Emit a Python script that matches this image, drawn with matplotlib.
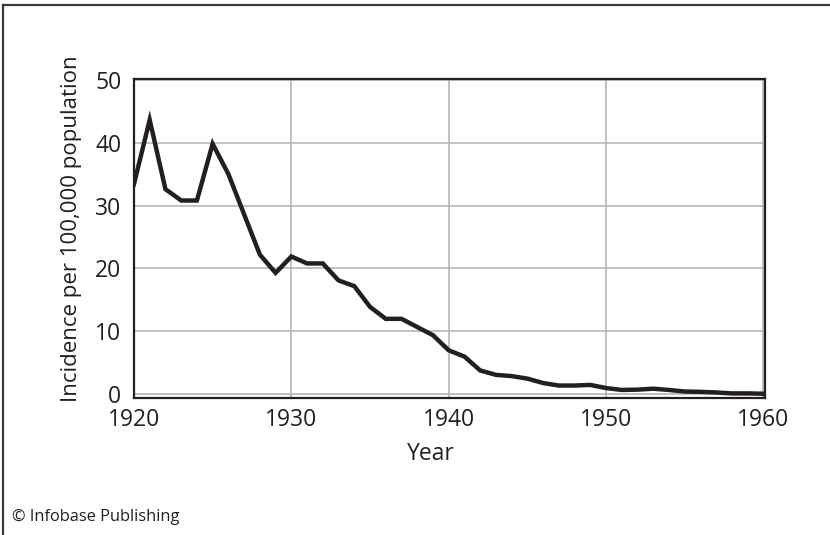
"""
Incidence per 100,000 population, 1920-1960.
"""

import matplotlib
matplotlib.use('Agg')
from matplotlib import pyplot as plt
from matplotlib.lines import Line2D

plt.rcParams['font.family'] = ['Open Sans', 'DejaVu Sans']

# Data
years = list(range(1920, 1961))
incidence = [33.4, 43.6, 32.6, 30.8, 30.8, 39.8, 35.0, 28.6, 22.2, 19.3,
             21.9, 20.8, 20.8, 18.1, 17.2, 13.9, 12.0, 12.0, 10.7, 9.4,
             7.0, 6.0, 3.8, 3.1, 2.9, 2.5, 1.8, 1.4, 1.4, 1.5,
             1.0, 0.7, 0.75, 0.9, 0.7, 0.45, 0.4, 0.3, 0.15, 0.15, 0.1]
xticks = [1920, 1930, 1940, 1950, 1960]
yticks = [0, 10, 20, 30, 40, 50]

fig = plt.figure(figsize=(8.3, 5.35), dpi=100)
ax = fig.add_axes([0.1614, 0.257, 0.7603, 0.5953])

ax.plot(years, incidence, '-', color='#231f20', lw=3.2,
        solid_joinstyle='miter', zorder=3)

ax.set_xlim(1920, 1960.1)
ax.set_ylim(-0.5, 50.1)
ax.set_xticks(xticks)
ax.set_yticks(yticks)
ax.grid(True, color='#b0b0b0', lw=1.1)
ax.set_axisbelow(True)
ax.tick_params(length=0, labelsize=16.5, colors='#231f20')
ax.tick_params(axis='y', pad=9)
ax.tick_params(axis='x', pad=7.5)
for s in ax.spines.values():
    s.set_linewidth(1.6)
    s.set_color('#231f20')

ax.set_xlabel('Year', fontsize=16.5, color='#231f20')
ax.xaxis.set_label_coords(0.47, -0.14, transform=ax.transAxes)
ax.set_ylabel('Incidence per 100,000 population', fontsize=16, color='#231f20')
ax.yaxis.set_label_coords(-0.082, 0.53, transform=ax.transAxes)

# outer frame (top and left edges visible)
fig.add_artist(Line2D([2.5 / 830, 1.0], [1 - 5 / 535, 1 - 5 / 535],
                      color='#3a3a3a', lw=1.6, transform=fig.transFigure))
fig.add_artist(Line2D([2.5 / 830, 2.5 / 830], [0.0, 1 - 5 / 535],
                      color='#3a3a3a', lw=1.6, transform=fig.transFigure))

fig.text(12 / 830, 1 - 517 / 535, '\u00a9 Infobase Publishing', fontsize=11.8,
         color='#231f20', va='center', ha='left')

fig.savefig('out.png', dpi=100)
